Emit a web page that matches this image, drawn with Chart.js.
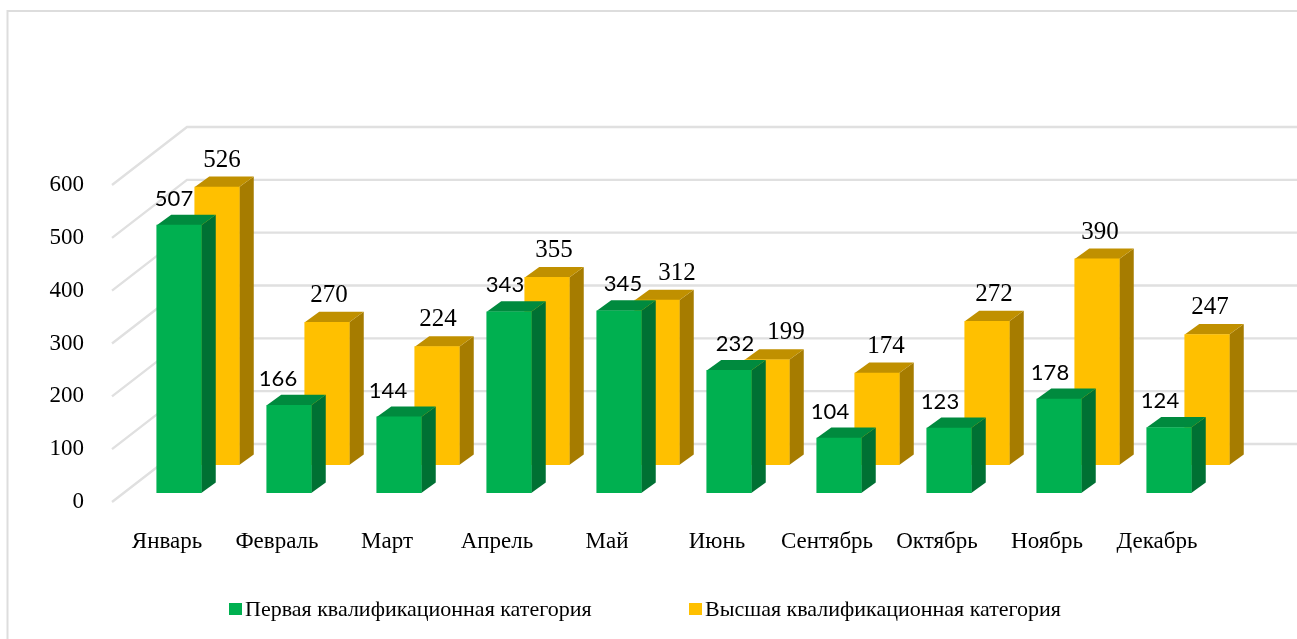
<!DOCTYPE html>
<html><head><meta charset="utf-8">
<style>html,body{margin:0;padding:0;background:#fff}canvas{display:block}</style>
<script src="https://cdn.jsdelivr.net/npm/chart.js@4"></script>
</head><body><canvas id="c" width="1297" height="639"></canvas>
<script>
const categories=['Январь','Февраль','Март','Апрель','Май','Июнь','Сентябрь','Октябрь','Ноябрь','Декабрь'];
const firstCategory=[507,166,144,343,345,232,104,123,178,124];
const highestCategory=[526,270,224,355,312,199,174,272,390,247];
const yTicks=[0,100,200,300,400,500,600];
const firstName='Первая квалификационная категория';
const highestName='Высшая квалификационная категория';

// Presentation only
const firstLabelShift=[-5,-11,-11,-4,4,6,-9,-9,-9,-9];
const highestLabelShift=[5,2,1,7,20,19,9,7,3,3];
const planes=[{dx:12,dy:-9},{dx:50,dy:-37}];
const faces=[{top:'#008A3E',side:'#007033'},{top:'#C09000',side:'#A67C00'}];
const wall={dx:75,dy:-58,right:1297};
const depth={dx:14.5,dy:-10.5};
const SERIF='"Liberation Serif"';

const pseudo3d={
  id:'pseudo3d',
  beforeDatasetsDraw(chart){
    const {ctx,scales:{y},chartArea:a}=chart;
    ctx.save();ctx.strokeStyle='#E0E0E0';ctx.lineWidth=2.4;
    for(const v of yTicks){
      const p=y.getPixelForValue(v);
      ctx.beginPath();
      ctx.moveTo(a.left,p);ctx.lineTo(a.left+wall.dx,p+wall.dy);ctx.lineTo(wall.right,p+wall.dy);
      ctx.stroke();
    }
    ctx.restore();
  },
  beforeDatasetDraw(chart,args){
    const {ctx}=chart,pl=planes[args.index],f=faces[args.index];
    ctx.save();ctx.translate(pl.dx,pl.dy);
    for(const b of args.meta.data){
      const l=b.x-b.width/2,r=b.x+b.width/2,t=b.y,bot=b.base;
      ctx.fillStyle=f.side;ctx.beginPath();
      ctx.moveTo(r,t);ctx.lineTo(r+depth.dx,t+depth.dy);ctx.lineTo(r+depth.dx,bot+depth.dy);ctx.lineTo(r,bot);ctx.closePath();ctx.fill();
      ctx.fillStyle=f.top;ctx.beginPath();
      ctx.moveTo(l,t);ctx.lineTo(l+depth.dx,t+depth.dy);ctx.lineTo(r+depth.dx,t+depth.dy);ctx.lineTo(r,t);ctx.closePath();ctx.fill();
    }
  },
  afterDatasetDraw(chart){chart.ctx.restore();},
  afterDatasetsDraw(chart){
    const {ctx}=chart;
    ctx.save();ctx.textAlign='center';ctx.textBaseline='middle';ctx.fillStyle='#000';
    chart.data.datasets.forEach((ds,i)=>{
      const meta=chart.getDatasetMeta(i),pl=planes[i];
      const shifts=i===0?firstLabelShift:highestLabelShift;
      ctx.font=i===0?'22px Lato':'25px '+SERIF;
      meta.data.forEach((b,k)=>{
        ctx.fillText(ds.data[k],b.x+pl.dx+shifts[k],b.y+pl.dy-(i===0?26.5:27));
      });
    });
    ctx.restore();
  },
  afterDraw(chart){
    const {ctx}=chart;
    ctx.save();
    ctx.strokeStyle='#DDDDDD';ctx.lineWidth=2;
    ctx.beginPath();ctx.moveTo(7.5,639);ctx.lineTo(7.5,11);ctx.lineTo(1297,11);ctx.stroke();
    ctx.font='22px '+SERIF;ctx.textBaseline='middle';ctx.textAlign='left';
    const items=[{t:firstName,bx:229,tx:245,w:381,c:'#00B050'},{t:highestName,bx:689,tx:705,w:390,c:'#FFC000'}];
    for(const it of items){
      ctx.fillStyle=it.c;ctx.fillRect(it.bx,603,13,12);
      ctx.fillStyle='#000';ctx.fillText(it.t,it.tx,610,it.w);
    }
    ctx.restore();
  }
};

new Chart(document.getElementById('c'),{
  type:'bar',
  data:{labels:categories,datasets:[
    {label:firstName,data:firstCategory,backgroundColor:'#00B050',barThickness:44.5,grouped:false},
    {label:highestName,data:highestCategory,backgroundColor:'#FFC000',barThickness:44.5,grouped:false}
  ]},
  plugins:[pseudo3d],
  options:{
    responsive:false,animation:false,
    layout:{padding:{top:185,right:85,left:0,bottom:0}},
    plugins:{legend:{display:false},tooltip:{enabled:false}},
    scales:{
      x:{grid:{display:false},border:{display:false},
        ticks:{color:'#000',font:{family:SERIF,size:23},padding:18,maxRotation:0,autoSkip:false},
        afterFit(s){s.height=137;}},
      y:{min:0,max:600,grid:{display:false},border:{display:false},
        afterBuildTicks(s){s.ticks=yTicks.map(v=>({value:v}));},
        ticks:{color:'#000',font:{family:SERIF,size:23},padding:20},
        afterFit(s){s.width=112;}}
    }
  }
});
</script></body></html>
